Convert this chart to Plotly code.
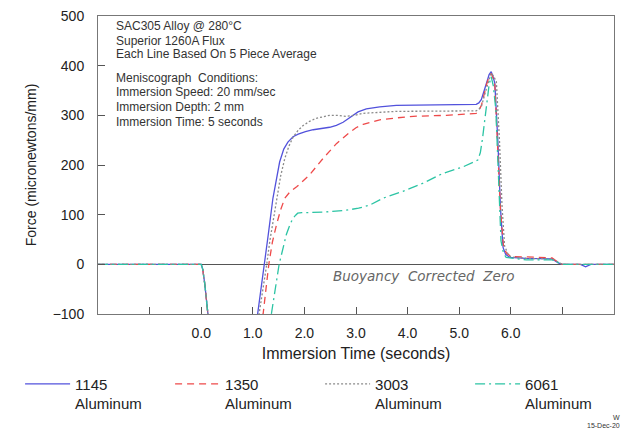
import plotly.graph_objects as go

# ---------------- data ----------------
t_1145 = [-2.0, 0.0, 0.03, 0.07, 0.13, 0.25, 0.9, 1.10, 1.23, 1.30, 1.39, 1.46, 1.52, 1.60, 1.68, 1.78, 1.88,
          2.02, 2.17, 2.49, 2.62, 2.75, 2.90, 3.04, 3.20, 3.46, 3.78, 4.43, 5.33, 5.38, 5.43, 5.53, 5.58,
          5.62, 5.65, 5.69, 5.75, 5.80, 5.85, 5.90, 5.98, 6.3, 6.8, 6.92,
          7.0, 7.35, 7.45, 7.55, 8.0]
f_1145 = [0, 0, -10, -40, -100, -250, -250, -100, 0, 60, 133, 175, 206, 232, 246, 257, 262,
          267, 271, 276, 280, 286, 297, 307, 313, 317, 320, 321, 322, 325, 332, 365, 382,
          388, 380, 365, 246, 113, 34, 20, 14, 12, 11, 3,
          0, 0, -5, 0, 0]

t_1350 = [-2.0, 0.0, 0.03, 0.07, 0.13, 0.25, 0.9, 1.20, 1.31, 1.38, 1.46, 1.54, 1.62, 1.72, 1.85, 2.10, 2.36,
          2.62, 2.88, 3.00, 3.14, 3.30, 3.46, 3.80, 4.11, 4.75, 5.33, 5.38, 5.43, 5.53, 5.58, 5.62, 5.65,
          5.69, 5.75, 5.80, 5.86, 5.92, 6.0, 6.3, 6.8, 6.93,
          7.0, 8.0]
f_1350 = [0, 0, -10, -40, -100, -250, -250, -100, 0, 45, 80, 110, 133, 146, 156, 180, 213,
          243, 266, 275, 282, 287, 291, 295, 298, 300, 304, 310, 320, 362, 378, 384, 377,
          362, 240, 110, 34, 22, 16, 15, 13, 3,
          0, 0]

t_3003 = [-2.0, 0.0, 0.03, 0.07, 0.13, 0.25, 0.9, 1.13, 1.27, 1.33, 1.46, 1.54, 1.62, 1.70, 1.78, 1.88, 1.97,
          2.10, 2.23, 2.49, 2.65, 2.81, 2.97, 3.13, 3.78, 5.33, 5.38, 5.43, 5.53, 5.58, 5.62, 5.66, 5.72,
          5.78, 5.83, 5.88, 5.94, 6.0, 6.3, 6.8, 6.93,
          7.0, 8.0]
f_3003 = [0, 0, -10, -40, -100, -250, -250, -100, 0, 47, 133, 178, 213, 238, 256, 270, 279,
          288, 294, 300, 300, 298, 300, 304, 308, 309, 312, 318, 355, 375, 385, 380, 368,
          250, 117, 37, 22, 15, 12, 11, 3,
          0, 0]

t_6061 = [-2.0, 0.0, 0.03, 0.07, 0.13, 0.25, 0.9, 1.36, 1.51, 1.58, 1.65, 1.72, 1.78, 1.83, 1.87, 1.95, 2.36,
          2.81, 3.05, 3.26, 3.52, 3.91, 4.29, 4.68, 5.07, 5.36, 5.41, 5.45, 5.53, 5.58, 5.62, 5.66,
          5.71, 5.76, 5.81, 5.86, 5.91, 6.3, 6.8, 6.93,
          7.0, 8.0]
f_6061 = [0, 0, -10, -40, -100, -250, -250, -100, 0, 32, 60, 80, 93, 99, 103, 104, 105,
          109, 113, 119, 133, 147, 163, 183, 196, 210, 225, 252, 325, 362, 378, 360,
          312, 180, 47, 22, 14, 9, 9, 3,
          0, 0]

series_names = ["1145<br>Aluminum", "1350<br>Aluminum", "3003<br>Aluminum", "6061<br>Aluminum"]
series_colors = ["#5252dc", "#ee4a4a", "#8a8a8a", "#2cc4a4"]
series_dash = ["solid", "7px,5px", "2px,2px", "10px,4px,2px,4px"]

x_tick_vals = [-2, -1, 0, 1, 2, 3, 4, 5, 6, 7]
x_tick_text = ["", "", "0.0", "1.0", "2.0", "3.0", "4.0", "5.0", "6.0", ""]
y_tick_vals = [-100, 0, 100, 200, 300, 400, 500]

info_lines = ["SAC305 Alloy @ 280°C", "Superior 1260A Flux", "Each Line Based On 5 Piece Average",
              "Meniscograph  Conditions:", "Immersion Speed: 20 mm/sec",
              "Immersion Depth: 2 mm", "Immersion Time: 5 seconds"]
info_line_px = [22, 37, 51, 75, 89, 104, 119]
zero_label = "Buoyancy\u00a0\u00a0Corrected\u00a0\u00a0Zero"

# ---------------- figure ----------------
FONT = "Liberation Sans, Arial, sans-serif"
W, H = 623, 431
ML, MR, MT, MB = 98, 8, 12, 117
PH = H - MT - MB

fig = go.Figure()
for t, f, name, col, dash in zip([t_1145, t_1350, t_3003, t_6061],
                                 [f_1145, f_1350, f_3003, f_6061],
                                 series_names, series_colors, series_dash):
    fig.add_trace(go.Scatter(x=t, y=f, mode="lines", name=name,
                             line=dict(color=col, width=1.3, dash=dash)))

fig.update_layout(
    width=W, height=H,
    margin=dict(l=ML, r=MR, t=MT, b=MB),
    paper_bgcolor="white", plot_bgcolor="white",
    font=dict(family=FONT, color="#222", size=14),
    showlegend=True,
    legend=dict(orientation="h", x=-0.151, xanchor="left", y=-0.18, yanchor="top",
                entrywidth=90, entrywidthmode="pixels", itemwidth=45, valign="top",
                font=dict(family=FONT, size=15, color="#222"), bgcolor="rgba(0,0,0,0)",
                traceorder="normal"),
)
fig.update_xaxes(range=[-2, 8], tickvals=x_tick_vals, ticktext=x_tick_text,
                 ticks="inside", ticklen=7, tickcolor="#555", showgrid=False, zeroline=False,
                 showline=True, linecolor="#777", linewidth=1, mirror=True,
                 tickfont=dict(size=14, color="#222"), ticklabelstandoff=6,
                 title=dict(text="Immersion Time (seconds)", font=dict(size=16, color="#222"), standoff=8))
fig.update_yaxes(range=[-100, 500], tickvals=y_tick_vals,
                 ticks="inside", ticklen=7, tickcolor="#555", showgrid=False,
                 zeroline=True, zerolinecolor="#555", zerolinewidth=1,
                 showline=True, linecolor="#777", linewidth=1, mirror=True,
                 tickfont=dict(size=14, color="#222"), ticklabelstandoff=10,
                 title=dict(text="Force (micronewtons/mm)", font=dict(size=14, color="#222"), standoff=12))

for line, ypx in zip(info_lines, info_line_px):
    fig.add_annotation(xref="paper", yref="paper", x=(115 - ML) / (W - ML - MR), y=1 - (ypx - MT) / PH,
                       xanchor="left", yanchor="middle", text=line, showarrow=False, align="left",
                       borderpad=0, font=dict(family=FONT, size=12, color="#333"))
fig.add_annotation(xref="x", yref="y", x=4.32, y=-24, text=zero_label, showarrow=False,
                   font=dict(family="DejaVu Sans", size=13.5, color="#666", style="italic"))
fig.add_annotation(xref="paper", yref="paper", x=(622 - ML) / (W - ML - MR), y=1 - (419 - MT) / PH,
                   xanchor="right", yanchor="middle", text="W", showarrow=False, borderpad=0,
                   font=dict(family=FONT, size=7, color="#333"))
fig.add_annotation(xref="paper", yref="paper", x=(622 - ML) / (W - ML - MR), y=1 - (427 - MT) / PH,
                   xanchor="right", yanchor="middle", text="15-Dec-20", showarrow=False, borderpad=0,
                   font=dict(family=FONT, size=7, color="#333"))

fig.write_html("out.html")
